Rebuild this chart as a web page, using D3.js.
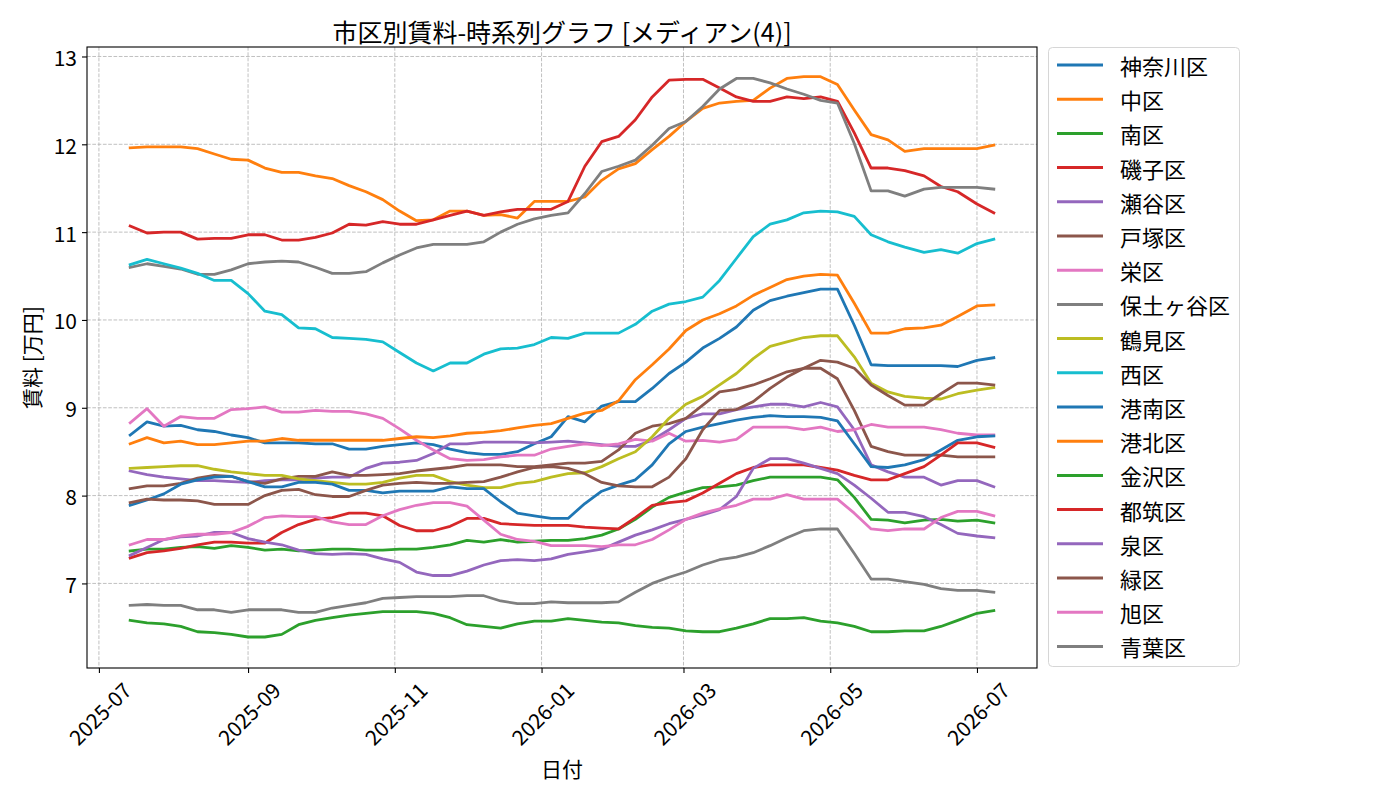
<!DOCTYPE html>
<html>
<head>
<meta charset="utf-8">
<script src="https://cdn.jsdelivr.net/npm/d3@7"></script>
<style>
    body { margin: 0; background: #fff; }
    text { font-family: "Noto Sans CJK JP", "Noto Sans", sans-serif; fill: #000; }
</style>
</head>
<body>
<div id="chart"></div>
<script>
// sample dates (one per week, roughly)
var dates = ["2025-07-14", "2025-07-21", "2025-07-28", "2025-08-04", "2025-08-11", "2025-08-18", "2025-08-25",
    "2025-09-01", "2025-09-08", "2025-09-15", "2025-09-22", "2025-09-29", "2025-10-06", "2025-10-13",
    "2025-10-20", "2025-10-27", "2025-11-03", "2025-11-10", "2025-11-17", "2025-11-24", "2025-12-01",
    "2025-12-08", "2025-12-15", "2025-12-22", "2025-12-29", "2026-01-05", "2026-01-12", "2026-01-19",
    "2026-01-26", "2026-02-02", "2026-02-09", "2026-02-16", "2026-02-23", "2026-03-02", "2026-03-09",
    "2026-03-16", "2026-03-23", "2026-03-30", "2026-04-06", "2026-04-13", "2026-04-20", "2026-04-27",
    "2026-05-04", "2026-05-11", "2026-05-18", "2026-05-25", "2026-06-01", "2026-06-09", "2026-06-16",
    "2026-06-23", "2026-07-01", "2026-07-08"];

var kanagawa = [8.69, 8.84, 8.79, 8.80, 8.75, 8.73, 8.69, 8.66, 8.60, 8.60, 8.60, 8.59, 8.59, 8.53, 8.53, 8.56, 8.58, 8.60, 8.58, 8.53, 8.49, 8.47, 8.47, 8.50, 8.59, 8.67, 8.90, 8.84, 9.02, 9.07, 9.07, 9.22, 9.39, 9.52, 9.68, 9.79, 9.92, 10.11, 10.22, 10.27, 10.31, 10.35, 10.35, 9.94, 9.49, 9.48, 9.48, 9.48, 9.48, 9.47, 9.54, 9.57];
var naka = [11.96, 11.97, 11.97, 11.97, 11.95, 11.89, 11.83, 11.82, 11.73, 11.68, 11.68, 11.64, 11.61, 11.53, 11.46, 11.37, 11.24, 11.13, 11.14, 11.24, 11.24, 11.19, 11.20, 11.16, 11.35, 11.35, 11.35, 11.40, 11.59, 11.72, 11.78, 11.94, 12.09, 12.26, 12.41, 12.47, 12.49, 12.50, 12.64, 12.75, 12.77, 12.77, 12.68, 12.39, 12.11, 12.05, 11.92, 11.95, 11.95, 11.95, 11.95, 11.99];
var minami = [7.37, 7.39, 7.39, 7.41, 7.42, 7.40, 7.43, 7.41, 7.38, 7.39, 7.37, 7.38, 7.39, 7.39, 7.38, 7.38, 7.39, 7.39, 7.41, 7.44, 7.49, 7.47, 7.50, 7.47, 7.48, 7.49, 7.49, 7.51, 7.55, 7.62, 7.73, 7.87, 7.98, 8.04, 8.09, 8.10, 8.12, 8.17, 8.21, 8.21, 8.21, 8.21, 8.18, 7.98, 7.73, 7.72, 7.69, 7.72, 7.73, 7.71, 7.72, 7.69];
var isogo = [11.07, 10.99, 11.00, 11.00, 10.92, 10.93, 10.93, 10.97, 10.97, 10.91, 10.91, 10.94, 10.99, 11.09, 11.08, 11.12, 11.09, 11.09, 11.14, 11.19, 11.24, 11.19, 11.23, 11.26, 11.26, 11.26, 11.35, 11.75, 12.03, 12.09, 12.28, 12.54, 12.73, 12.74, 12.74, 12.64, 12.54, 12.49, 12.49, 12.54, 12.52, 12.54, 12.49, 12.13, 11.73, 11.73, 11.70, 11.64, 11.52, 11.46, 11.32, 11.22];
var seya = [8.28, 8.24, 8.21, 8.19, 8.17, 8.17, 8.16, 8.15, 8.17, 8.18, 8.18, 8.20, 8.21, 8.21, 8.31, 8.37, 8.38, 8.40, 8.48, 8.59, 8.59, 8.61, 8.61, 8.61, 8.60, 8.61, 8.62, 8.60, 8.58, 8.56, 8.56, 8.63, 8.75, 8.88, 8.93, 8.93, 8.98, 9.01, 9.04, 9.04, 9.01, 9.06, 9.01, 8.75, 8.35, 8.27, 8.21, 8.21, 8.12, 8.17, 8.17, 8.10];
var totsuka = [8.08, 8.11, 8.11, 8.14, 8.20, 8.23, 8.22, 8.16, 8.14, 8.19, 8.22, 8.22, 8.27, 8.23, 8.23, 8.24, 8.25, 8.28, 8.30, 8.32, 8.35, 8.35, 8.35, 8.33, 8.33, 8.35, 8.37, 8.37, 8.39, 8.52, 8.71, 8.79, 8.82, 8.88, 9.03, 9.18, 9.21, 9.26, 9.33, 9.41, 9.45, 9.45, 9.33, 8.97, 8.56, 8.50, 8.46, 8.46, 8.46, 8.44, 8.44, 8.44];
var sakae = [8.83, 8.99, 8.79, 8.90, 8.88, 8.88, 8.98, 8.99, 9.01, 8.95, 8.95, 8.97, 8.96, 8.96, 8.93, 8.88, 8.76, 8.63, 8.52, 8.42, 8.40, 8.41, 8.44, 8.46, 8.46, 8.53, 8.56, 8.59, 8.57, 8.59, 8.64, 8.62, 8.71, 8.62, 8.63, 8.61, 8.64, 8.78, 8.78, 8.78, 8.75, 8.78, 8.73, 8.75, 8.81, 8.78, 8.78, 8.78, 8.75, 8.71, 8.69, 8.69];
var hodogaya = [10.60, 10.64, 10.61, 10.58, 10.52, 10.52, 10.57, 10.64, 10.66, 10.67, 10.66, 10.60, 10.53, 10.53, 10.55, 10.65, 10.74, 10.82, 10.86, 10.86, 10.86, 10.89, 11.00, 11.09, 11.15, 11.19, 11.22, 11.44, 11.69, 11.75, 11.82, 11.99, 12.18, 12.26, 12.43, 12.63, 12.75, 12.75, 12.70, 12.63, 12.57, 12.50, 12.47, 12.01, 11.47, 11.47, 11.41, 11.49, 11.51, 11.51, 11.51, 11.49];
var tsurumi = [8.31, 8.32, 8.33, 8.34, 8.34, 8.30, 8.27, 8.25, 8.23, 8.23, 8.19, 8.17, 8.15, 8.13, 8.13, 8.15, 8.20, 8.23, 8.23, 8.16, 8.12, 8.09, 8.09, 8.14, 8.16, 8.21, 8.25, 8.26, 8.33, 8.42, 8.50, 8.67, 8.88, 9.04, 9.13, 9.26, 9.39, 9.56, 9.70, 9.75, 9.80, 9.82, 9.82, 9.58, 9.28, 9.18, 9.13, 9.11, 9.10, 9.16, 9.20, 9.23];
var nishi = [10.63, 10.69, 10.64, 10.59, 10.53, 10.45, 10.45, 10.30, 10.10, 10.06, 9.91, 9.90, 9.80, 9.79, 9.78, 9.75, 9.63, 9.51, 9.42, 9.51, 9.51, 9.61, 9.67, 9.68, 9.72, 9.80, 9.79, 9.85, 9.85, 9.85, 9.95, 10.10, 10.18, 10.21, 10.26, 10.45, 10.70, 10.95, 11.09, 11.14, 11.22, 11.24, 11.23, 11.18, 10.97, 10.89, 10.83, 10.77, 10.80, 10.76, 10.87, 10.92];
var konan = [7.89, 7.95, 8.02, 8.13, 8.18, 8.21, 8.22, 8.16, 8.10, 8.10, 8.15, 8.15, 8.13, 8.06, 8.06, 8.03, 8.05, 8.05, 8.05, 8.10, 8.08, 8.08, 7.93, 7.80, 7.77, 7.74, 7.74, 7.91, 8.05, 8.12, 8.18, 8.35, 8.59, 8.73, 8.78, 8.82, 8.86, 8.89, 8.91, 8.90, 8.90, 8.89, 8.85, 8.59, 8.33, 8.32, 8.35, 8.41, 8.52, 8.63, 8.67, 8.68];
var kohoku = [8.59, 8.66, 8.60, 8.62, 8.58, 8.58, 8.60, 8.62, 8.62, 8.65, 8.63, 8.63, 8.63, 8.63, 8.63, 8.63, 8.65, 8.67, 8.66, 8.68, 8.71, 8.72, 8.74, 8.77, 8.80, 8.82, 8.88, 8.94, 8.97, 9.08, 9.32, 9.49, 9.67, 9.88, 10.00, 10.07, 10.16, 10.28, 10.37, 10.46, 10.50, 10.52, 10.51, 10.19, 9.85, 9.85, 9.90, 9.91, 9.94, 10.04, 10.16, 10.17];
var kanazawa = [6.58, 6.55, 6.54, 6.51, 6.45, 6.44, 6.42, 6.39, 6.39, 6.42, 6.53, 6.58, 6.61, 6.64, 6.66, 6.68, 6.68, 6.68, 6.66, 6.61, 6.53, 6.51, 6.49, 6.54, 6.57, 6.57, 6.60, 6.58, 6.56, 6.55, 6.52, 6.50, 6.49, 6.46, 6.45, 6.45, 6.49, 6.54, 6.60, 6.60, 6.61, 6.57, 6.55, 6.51, 6.45, 6.45, 6.46, 6.46, 6.51, 6.58, 6.66, 6.69];
var tsuzuki = [7.29, 7.35, 7.37, 7.40, 7.44, 7.47, 7.47, 7.46, 7.46, 7.58, 7.67, 7.73, 7.75, 7.80, 7.80, 7.77, 7.66, 7.60, 7.60, 7.65, 7.74, 7.74, 7.68, 7.67, 7.66, 7.66, 7.66, 7.64, 7.63, 7.62, 7.75, 7.89, 7.92, 7.94, 8.03, 8.14, 8.25, 8.32, 8.35, 8.35, 8.35, 8.32, 8.29, 8.23, 8.18, 8.18, 8.25, 8.33, 8.46, 8.60, 8.60, 8.55];
var izumi = [7.32, 7.41, 7.50, 7.53, 7.54, 7.58, 7.58, 7.51, 7.47, 7.44, 7.38, 7.34, 7.33, 7.34, 7.33, 7.28, 7.24, 7.13, 7.09, 7.09, 7.14, 7.21, 7.26, 7.27, 7.26, 7.28, 7.33, 7.36, 7.39, 7.47, 7.55, 7.61, 7.68, 7.73, 7.78, 7.84, 7.99, 8.31, 8.42, 8.42, 8.37, 8.31, 8.25, 8.12, 7.97, 7.81, 7.81, 7.76, 7.67, 7.57, 7.54, 7.52];
var midori = [7.92, 7.96, 7.95, 7.95, 7.94, 7.90, 7.90, 7.90, 8.00, 8.06, 8.07, 8.01, 7.99, 7.99, 8.06, 8.12, 8.14, 8.15, 8.14, 8.14, 8.15, 8.16, 8.21, 8.27, 8.32, 8.33, 8.31, 8.25, 8.15, 8.11, 8.10, 8.10, 8.21, 8.42, 8.75, 8.97, 8.98, 9.07, 9.22, 9.35, 9.45, 9.54, 9.52, 9.45, 9.26, 9.14, 9.03, 9.03, 9.16, 9.28, 9.28, 9.26];
var asahi = [7.44, 7.50, 7.50, 7.54, 7.56, 7.56, 7.58, 7.65, 7.75, 7.77, 7.76, 7.76, 7.70, 7.67, 7.67, 7.77, 7.84, 7.89, 7.92, 7.92, 7.88, 7.72, 7.56, 7.50, 7.48, 7.43, 7.43, 7.43, 7.42, 7.44, 7.44, 7.50, 7.61, 7.73, 7.80, 7.85, 7.89, 7.96, 7.96, 8.01, 7.96, 7.96, 7.96, 7.80, 7.62, 7.60, 7.62, 7.62, 7.75, 7.82, 7.82, 7.77];
var aoba = [6.75, 6.76, 6.75, 6.75, 6.70, 6.70, 6.67, 6.70, 6.70, 6.70, 6.67, 6.67, 6.72, 6.75, 6.78, 6.83, 6.84, 6.85, 6.85, 6.85, 6.86, 6.86, 6.80, 6.77, 6.77, 6.79, 6.78, 6.78, 6.78, 6.79, 6.90, 7.00, 7.07, 7.13, 7.21, 7.27, 7.30, 7.35, 7.43, 7.52, 7.60, 7.62, 7.62, 7.34, 7.05, 7.05, 7.02, 6.99, 6.94, 6.92, 6.92, 6.90];

var wardNames = ["神奈川区", "中区", "南区", "磯子区", "瀬谷区", "戸塚区", "栄区", "保土ヶ谷区", "鶴見区", "西区",
    "港南区", "港北区", "金沢区", "都筑区", "泉区", "緑区", "旭区", "青葉区"];
var wardValues = [kanagawa, naka, minami, isogo, seya, totsuka, sakae, hodogaya, tsurumi, nishi,
    konan, kohoku, kanazawa, tsuzuki, izumi, midori, asahi, aoba];

var yTicks = [7, 8, 9, 10, 11, 12, 13];
var titleText = "市区別賃料-時系列グラフ [メディアン(4)]";
var xLabelText = "日付";
var yLabelText = "賃料 [万円]";

// ---- layout ----
var svg = d3.select("#chart").append("svg")
    .attr("width", 1400)
    .attr("height", 800);

var plot = { left: 87, right: 1037, top: 47, bottom: 668 };

var parseDate = d3.timeParse("%Y-%m-%d");
var parsedDates = dates.map(parseDate);

// matplotlib style 5% margins on x
var t0 = parsedDates[0].getTime(), t1 = parsedDates[parsedDates.length - 1].getTime();
var pad = (t1 - t0) * 0.05;
var x = d3.scaleTime()
    .domain([new Date(t0 - pad), new Date(t1 + pad)])
    .range([plot.left, plot.right]);

var y = d3.scaleLinear()
    .domain([6.037, 13.108])
    .range([plot.bottom, plot.top]);

var colors = d3.schemeCategory10;

// gridlines
var xTicks = d3.timeMonth.every(2).range(new Date(2025, 6, 1), new Date(2026, 7, 1));
var grid = svg.append("g");
grid.selectAll(".gx").data(xTicks).enter().append("line")
    .attr("x1", function (d) { return x(d); })
    .attr("x2", function (d) { return x(d); })
    .attr("y1", plot.top).attr("y2", plot.bottom)
    .attr("stroke", "#b0b0b0").attr("stroke-width", 0.8)
    .attr("stroke-dasharray", "3.7,1.6");
grid.selectAll(".gy").data(yTicks).enter().append("line")
    .attr("x1", plot.left).attr("x2", plot.right)
    .attr("y1", function (d) { return y(d); })
    .attr("y2", function (d) { return y(d); })
    .attr("stroke", "#b0b0b0").attr("stroke-width", 0.8)
    .attr("stroke-dasharray", "3.7,1.6");

// the lines
var line = d3.line()
    .x(function (d, i) { return x(parsedDates[i]); })
    .y(function (d) { return y(d); });

svg.append("g").selectAll("path")
    .data(wardValues)
    .enter().append("path")
    .attr("fill", "none")
    .attr("stroke", function (d, i) { return colors[i % 10]; })
    .attr("stroke-width", 2.8)
    .attr("stroke-linejoin", "round")
    .attr("stroke-linecap", "square")
    .attr("d", function (d) { return line(d); });

// frame
svg.append("rect")
    .attr("x", plot.left).attr("y", plot.top)
    .attr("width", plot.right - plot.left).attr("height", plot.bottom - plot.top)
    .attr("fill", "none").attr("stroke", "#000").attr("stroke-width", 1.1);

// x axis
var xAxis = svg.append("g")
    .attr("transform", "translate(0," + plot.bottom + ")")
    .call(d3.axisBottom(x).tickValues(xTicks).tickFormat(d3.timeFormat("%Y-%m")).tickSize(5).tickSizeOuter(0));
xAxis.select(".domain").remove();
xAxis.selectAll(".tick line").attr("stroke", "#000").attr("stroke-width", 1.1);
xAxis.selectAll(".tick text")
    .attr("font-size", 21)
    .attr("text-anchor", "middle")
    .attr("dominant-baseline", "central")
    .attr("x", 0).attr("y", 0).attr("dy", null)
    .attr("transform", "translate(0,45) rotate(-45)");

// y axis
var yAxis = svg.append("g")
    .attr("transform", "translate(" + plot.left + ",0)")
    .call(d3.axisLeft(y).tickValues(yTicks).tickFormat(d3.format("d")).tickSize(5).tickSizeOuter(0));
yAxis.select(".domain").remove();
yAxis.selectAll(".tick line").attr("stroke", "#000").attr("stroke-width", 1.1);
yAxis.selectAll(".tick text")
    .attr("font-size", 21)
    .attr("x", -10)
    .attr("dy", null)
    .attr("dominant-baseline", "central");

// title and axis labels
svg.append("text")
    .attr("x", (plot.left + plot.right) / 2).attr("y", 31)
    .attr("text-anchor", "middle").attr("dominant-baseline", "central")
    .attr("font-size", 25)
    .text(titleText);

svg.append("text")
    .attr("x", (plot.left + plot.right) / 2).attr("y", 768)
    .attr("text-anchor", "middle").attr("dominant-baseline", "central")
    .attr("font-size", 21)
    .text(xLabelText);

svg.append("text")
    .attr("transform", "translate(31," + ((plot.top + plot.bottom) / 2) + ") rotate(-90)")
    .attr("text-anchor", "middle").attr("dominant-baseline", "central")
    .attr("font-size", 21)
    .text(yLabelText);

// legend
var legend = svg.append("g");
legend.append("rect")
    .attr("x", 1048.5).attr("y", 47.5)
    .attr("width", 191).attr("height", 619)
    .attr("rx", 4).attr("ry", 4)
    .attr("fill", "#fff").attr("fill-opacity", 0.8)
    .attr("stroke", "#d6d6d6").attr("stroke-width", 1);

var rows = legend.selectAll(".row")
    .data(wardNames)
    .enter().append("g")
    .attr("transform", function (d, i) { return "translate(0," + (65 + i * 34.2) + ")"; });
rows.append("line")
    .attr("x1", 1057).attr("x2", 1103)
    .attr("stroke", function (d, i) { return colors[i % 10]; })
    .attr("stroke-width", 3);
rows.append("text")
    .attr("x", 1120)
    .attr("dominant-baseline", "central")
    .attr("font-size", 22)
    .text(function (d) { return d; });
</script>
</body>
</html>
